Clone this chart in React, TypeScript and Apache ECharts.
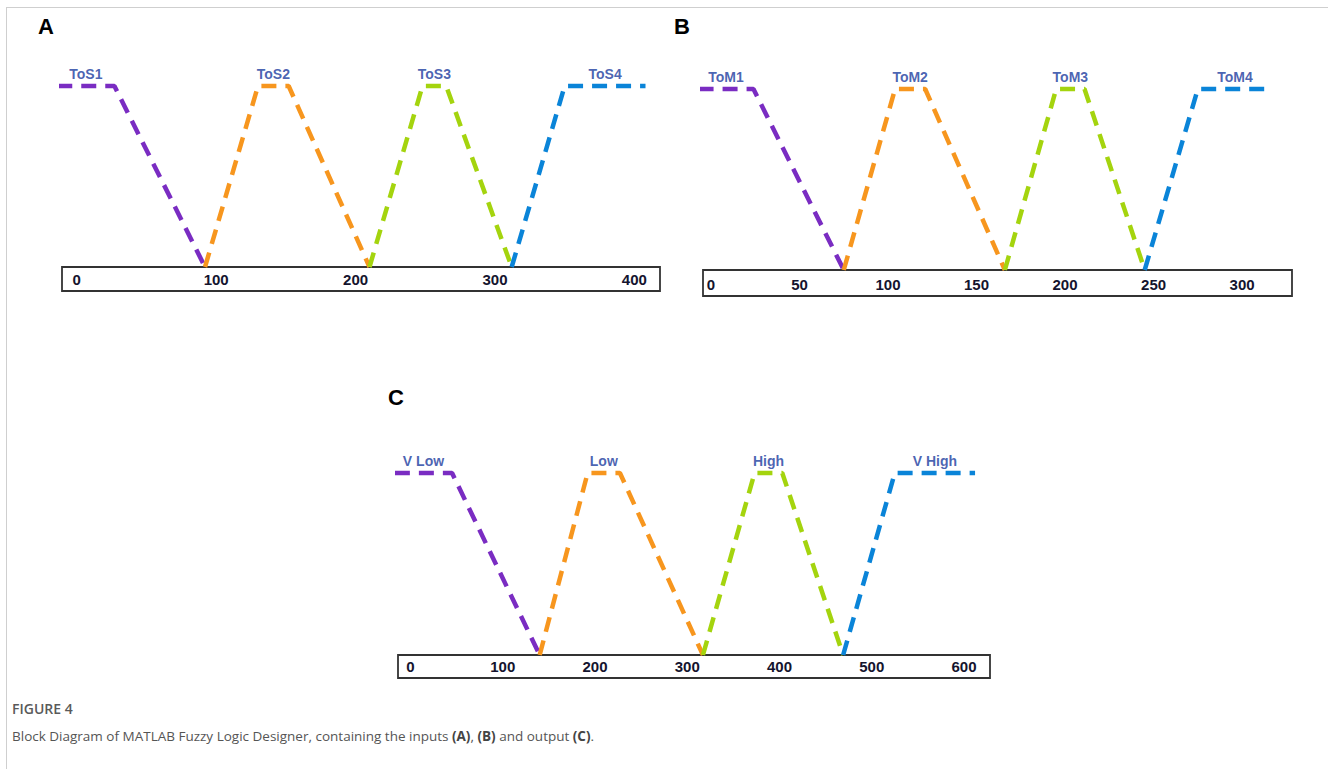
import React, { useEffect, useRef } from "react";
import * as echarts from "echarts";

// ---------- data ----------
const namesA = ["ToS1", "ToS2", "ToS3", "ToS4"];
const namesB = ["ToM1", "ToM2", "ToM3", "ToM4"];
const namesC = ["V Low", "Low", "High", "V High"];

const ticksA = [0, 100, 200, 300, 400];
const ticksB = [0, 50, 100, 150, 200, 250, 300];
const ticksC = [0, 100, 200, 300, 400, 500, 600];

// membership function breakpoints [x, membership]
const mfA = [
  [[-14, 1], [27, 1], [92, 0]],
  [[92, 0], [130, 1], [152, 1], [210, 0]],
  [[210, 0], [248, 1], [265, 1], [312, 0]],
  [[312, 0], [350, 1], [408, 1]],
];
const mfB = [
  [[-7, 1], [24, 1], [75, 0]],
  [[75, 0], [104, 1], [121, 1], [166, 0]],
  [[166, 0], [195, 1], [211, 1], [245, 0]],
  [[245, 0], [275, 1], [317, 1]],
];
const mfC = [
  [[-17, 1], [45, 1], [140, 0]],
  [[140, 0], [192, 1], [227, 1], [317, 0]],
  [[317, 0], [373, 1], [403, 1], [469, 0]],
  [[469, 0], [525, 1], [612, 1]],
];

const rangeA = [-10.6, 418.4];
const rangeB = [-4.5, 328.2];
const rangeC = [-13.6, 628.2];

const panelLetters = ["A", "B", "C"];
const captionTitle = "FIGURE 4";

// ---------- styles / layout ----------
const MF_COLORS = ["#7A2CC2", "#F7961E", "#A4D40E", "#0A84D8"];
const LABEL_COLOR = "#1B3C9E";
const TICK_COLOR = "#14142E";

const layouts = [
  { left: 62, width: 598, top: 86, height: 181, boxH: 24, lx: 38, ly: 15 },
  { left: 703, width: 589, top: 89, height: 181, boxH: 26, lx: 674, ly: 15 },
  { left: 398, width: 592, top: 473, height: 182, boxH: 23, lx: 388, ly: 386 },
];

const panels = [
  { names: namesA, ticks: ticksA, mfs: mfA, range: rangeA },
  { names: namesB, ticks: ticksB, mfs: mfB, range: rangeB },
  { names: namesC, ticks: ticksC, mfs: mfC, range: rangeC },
];

function plateauMid(pts: number[][]): number {
  const ones = pts.filter((p) => p[1] === 1).map((p) => p[0]);
  return (Math.min(...ones) + Math.max(...ones)) / 2;
}

function buildOption() {
  const grid: any[] = [];
  const xAxis: any[] = [];
  const yAxis: any[] = [];
  const series: any[] = [];
  const graphic: any[] = [];

  panels.forEach((p, pi) => {
    const L = layouts[pi];
    const plotIdx = grid.length;
    grid.push({ left: L.left, width: L.width, top: L.top, height: L.height, show: false });
    const boxIdx = grid.length;
    grid.push({
      left: L.left,
      width: L.width,
      top: L.top + L.height,
      height: L.boxH,
      show: true,
      borderColor: "#333333",
      borderWidth: 1.8,
      backgroundColor: "transparent",
    });
    xAxis.push({
      gridIndex: plotIdx,
      type: "value",
      min: p.range[0],
      max: p.range[1],
      show: false,
    });
    xAxis.push({
      gridIndex: boxIdx,
      type: "value",
      min: p.range[0],
      max: p.range[1],
      position: "bottom",
      axisLine: { show: false },
      axisTick: { show: false },
      splitLine: { show: false },
      axisLabel: {
        inside: true,
        margin: 4,
        customValues: p.ticks,
        color: TICK_COLOR,
        fontWeight: "bold",
        fontSize: 15,
        fontFamily: "Liberation Sans, Arial, sans-serif",
      },
    });
    yAxis.push({ gridIndex: plotIdx, type: "value", min: 0, max: 1, show: false });
    yAxis.push({ gridIndex: boxIdx, type: "value", min: 0, max: 1, show: false });

    p.mfs.forEach((pts, si) => {
      series.push({
        type: "line",
        name: p.names[si],
        xAxisIndex: plotIdx,
        yAxisIndex: plotIdx,
        data: pts,
        symbol: "none",
        clip: false,
        lineStyle: { color: MF_COLORS[si], width: 4.5, type: [15, 9], cap: "butt" },
        z: 3,
      });
    });
    series.push({
      type: "scatter",
      xAxisIndex: plotIdx,
      yAxisIndex: plotIdx,
      symbolSize: 0,
      clip: false,
      data: p.mfs.map((pts, si) => ({ name: p.names[si], value: [plateauMid(pts), 1] })),
      label: {
        show: true,
        position: "top",
        distance: 5,
        formatter: "{b}",
        color: LABEL_COLOR,
        fontWeight: "bold",
        fontSize: 14,
        fontFamily: "Liberation Sans, Arial, sans-serif",
      },
      z: 4,
    });

    graphic.push({
      type: "text",
      left: L.lx,
      top: L.ly,
      style: {
        text: panelLetters[pi],
        fill: "#000",
        font: "bold 22px 'Liberation Sans', Arial, sans-serif",
      },
    });
  });

  // frame
  graphic.push({ type: "line", shape: { x1: 6, y1: 7.5, x2: 1328, y2: 7.5 }, style: { stroke: "#cfcfcf", lineWidth: 1 } });
  graphic.push({ type: "line", shape: { x1: 6.5, y1: 7, x2: 6.5, y2: 769 }, style: { stroke: "#cfcfcf", lineWidth: 1 } });

  // caption
  graphic.push({
    type: "text",
    left: 12,
    top: 701,
    style: {
      text: captionTitle,
      fill: "#5a5a5a",
      font: "600 14px 'Open Sans', sans-serif",
    },
  });
  graphic.push({
    type: "text",
    left: 12,
    top: 729,
    style: {
      text: "{n|Block Diagram of MATLAB Fuzzy Logic Designer, containing the inputs }{b|(A)}{n|, }{b|(B)}{n| and output }{b|(C)}{n|.}",
      rich: {
        n: { fill: "#555", font: "13.5px 'Open Sans', sans-serif" },
        b: { fill: "#444", font: "bold 13.5px 'Open Sans', sans-serif" },
      },
    },
  });

  return {
    animation: false,
    backgroundColor: "#ffffff",
    grid,
    xAxis,
    yAxis,
    series,
    graphic,
  };
}

export default function App() {
  const ref = useRef<HTMLDivElement>(null);
  useEffect(() => {
    if (!ref.current) return;
    const chart = echarts.init(ref.current, undefined, { renderer: "svg" });
    chart.setOption(buildOption() as any);
    return () => chart.dispose();
  }, []);
  return (
    <div
      ref={ref}
      style={{ position: "fixed", left: 0, top: 0, width: 1328, height: 769, background: "#fff" }}
    />
  );
}
